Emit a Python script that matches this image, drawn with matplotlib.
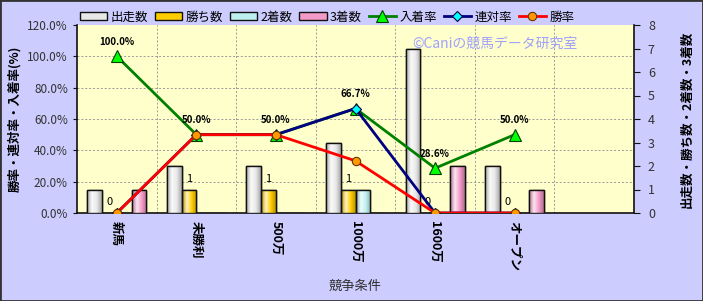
import numpy as np
import matplotlib.pyplot as plt
from matplotlib.colors import LinearSegmentedColormap, to_rgb
from matplotlib.patches import Rectangle

plt.rcParams['font.family'] = ['Noto Sans CJK JP', 'DejaVu Sans']

# data
categories = ["新馬", "未勝利", "500万", "1000万", "1600万", "オープン"]
starts = [1, 2, 2, 3, 7, 2]        # 出走数
wins = [0, 1, 1, 1, 0, 0]          # 勝ち数
seconds = [0, 0, 0, 1, 0, 0]       # 2着数
thirds = [1, 0, 0, 0, 2, 1]        # 3着数
place_rate = [100.0, 50.0, 50.0, 66.7, 28.6, 50.0]   # 入着率
quinella_rate = [0.0, 50.0, 50.0, 66.7, 0.0, 0.0]    # 連対率
win_rate = [0.0, 50.0, 50.0, 33.3, 0.0, 0.0]         # 勝率
pct_ticks = [0, 20, 40, 60, 80, 100, 120]
cnt_ticks = [0, 1, 2, 3, 4, 5, 6, 7, 8]

bg = "#CCCCFF"
plot_bg = "#FFFFCC"

fig = plt.figure(figsize=(7.03, 3.01), dpi=100)
fig.patch.set_facecolor(bg)
fig.patches.append(Rectangle((0, 0), 1, 1, transform=fig.transFigure,
                             fill=False, edgecolor="#333333", lw=2.0))

ax = fig.add_axes([77 / 703, 1 - 213 / 301, (634 - 77) / 703, (213 - 25) / 301])
ax.set_facecolor(plot_bg)
ax2 = ax.twinx()

x = np.arange(len(categories))
w = 0.185
bar_series = [
    (starts, "#E8E8E8", "出走数"),
    (wins, "#FFCC00", "勝ち数"),
    (seconds, "#BFF0F0", "2着数"),
    (thirds, "#F49AC8", "3着数"),
]


def shade_cmap(c):
    r, g, b = to_rgb(c)
    dark = (r * 0.72, g * 0.72, b * 0.72)
    light = tuple(min(1, v + (1 - v) * 0.75) for v in (r, g, b))
    return LinearSegmentedColormap.from_list("s", [dark, light, (r, g, b), dark])


grad = np.linspace(0, 1, 64).reshape(1, -1)
handles = []
for k, (vals, col, lab) in enumerate(bar_series):
    off = (k - 1.5) * w
    bars = ax.bar(x + off, vals, w, color=col, edgecolor="#111111", lw=1.0, zorder=3)
    cm = shade_cmap(col)
    for b in bars:
        if b.get_height() <= 0:
            continue
        im = ax.imshow(grad, cmap=cm, aspect="auto", zorder=3.1,
                       extent=[b.get_x(), b.get_x() + b.get_width(), 0, b.get_height()])
        im.set_clip_path(b)
        ax.add_patch(Rectangle((b.get_x(), 0), b.get_width(), b.get_height(),
                               fill=False, edgecolor="#111111", lw=1.0, zorder=3.2))
    handles.append(Rectangle((0, 0), 1, 1, facecolor=col, edgecolor="#111111", lw=1.0))

ax.set_xlim(-0.5, 6.5)
ax.set_ylim(0, 8)

# win count labels
for xi, v in zip(x, wins):
    ax.text(xi - 0.5 * w, v + 0.25, str(v), ha="center", va="bottom", fontsize=8, zorder=5)

# grid
for p in pct_ticks[1:-1]:
    ax.axhline(p / pct_ticks[-1] * cnt_ticks[-1], color="#999999", lw=0.7, ls=(0, (2, 2)), zorder=1)
for b in np.arange(0.5, 6.5, 1.0):
    ax.axvline(b, color="#999999", lw=0.7, ls=(0, (2, 2)), zorder=1)

ax.set_xticks(x)
ax.set_xticklabels(categories, rotation=270, fontsize=9, fontweight="bold")
ax.tick_params(axis="x", length=0, pad=6)
ax.yaxis.tick_right()
ax.yaxis.set_label_position("right")
ax.set_yticks(cnt_ticks)
ax.tick_params(axis="y", labelsize=9, length=4, colors="#111111", labelcolor="#333333", pad=6)
ax.set_ylabel("出走数・勝ち数・2着数・3着数", fontsize=9, fontweight="bold", rotation=90)
ax.yaxis.set_label_coords(1.083, 0.5)
ax.set_xlabel("競争条件", fontsize=9.5, color="#333333")
ax.xaxis.set_label_coords(0.5, -0.355)
for s in ["left", "right", "bottom"]:
    ax.spines[s].set_color("#111111")
    ax.spines[s].set_linewidth(1.2)
ax.spines["top"].set_visible(False)

ax2.set_ylim(0, pct_ticks[-1])
ax2.yaxis.tick_left()
ax2.yaxis.set_label_position("left")
ax2.set_yticks(pct_ticks)
ax2.set_yticklabels([f"{p:.1f}%" for p in pct_ticks])
ax2.tick_params(axis="y", labelsize=8.5, length=3, colors="#111111", labelcolor="#333333")
ax2.set_ylabel("勝率・連対率・入着率(%)", fontsize=9, fontweight="bold")
ax2.yaxis.set_label_coords(-0.1, 0.5)
for s in ax2.spines.values():
    s.set_visible(False)

l1, = ax2.plot(x, place_rate, color="#008000", lw=2, marker="^", ms=8,
               mfc="#00FF00", mec="#004000", mew=0.8, zorder=4, label="入着率")
l2, = ax2.plot(x, quinella_rate, color="#000080", lw=2, marker="D", ms=5,
               mfc="#00FFFF", mec="#000040", mew=0.8, zorder=5, label="連対率")
l3, = ax2.plot(x, win_rate, color="#FF0000", lw=2, marker="o", ms=6,
               mfc="#FF9900", mec="#663300", mew=0.8, zorder=6, label="勝率")
ax2.set_xlim(-0.5, 6.5)

for xi, v in zip(x, place_rate):
    ax2.text(xi, v + 6, f"{v:.1f}%", ha="center", va="bottom", fontsize=7,
             fontweight="bold", zorder=7)

ax2.text(0.75, 0.9, "©Caniの競馬データ研究室", transform=ax2.transAxes, ha="center",
         va="center", fontsize=10, color="#9FA0FF")

fig.legend(handles + [l1, l2, l3], ["出走数", "勝ち数", "2着数", "3着数", "入着率", "連対率", "勝率"],
           loc="center", bbox_to_anchor=(0.465, 0.943), ncol=7, frameon=False,
           fontsize=9, handlelength=2.2, handleheight=0.6, columnspacing=0.55,
           handletextpad=0.25, borderaxespad=0)

fig.savefig("out.png", dpi=100, facecolor=bg)
